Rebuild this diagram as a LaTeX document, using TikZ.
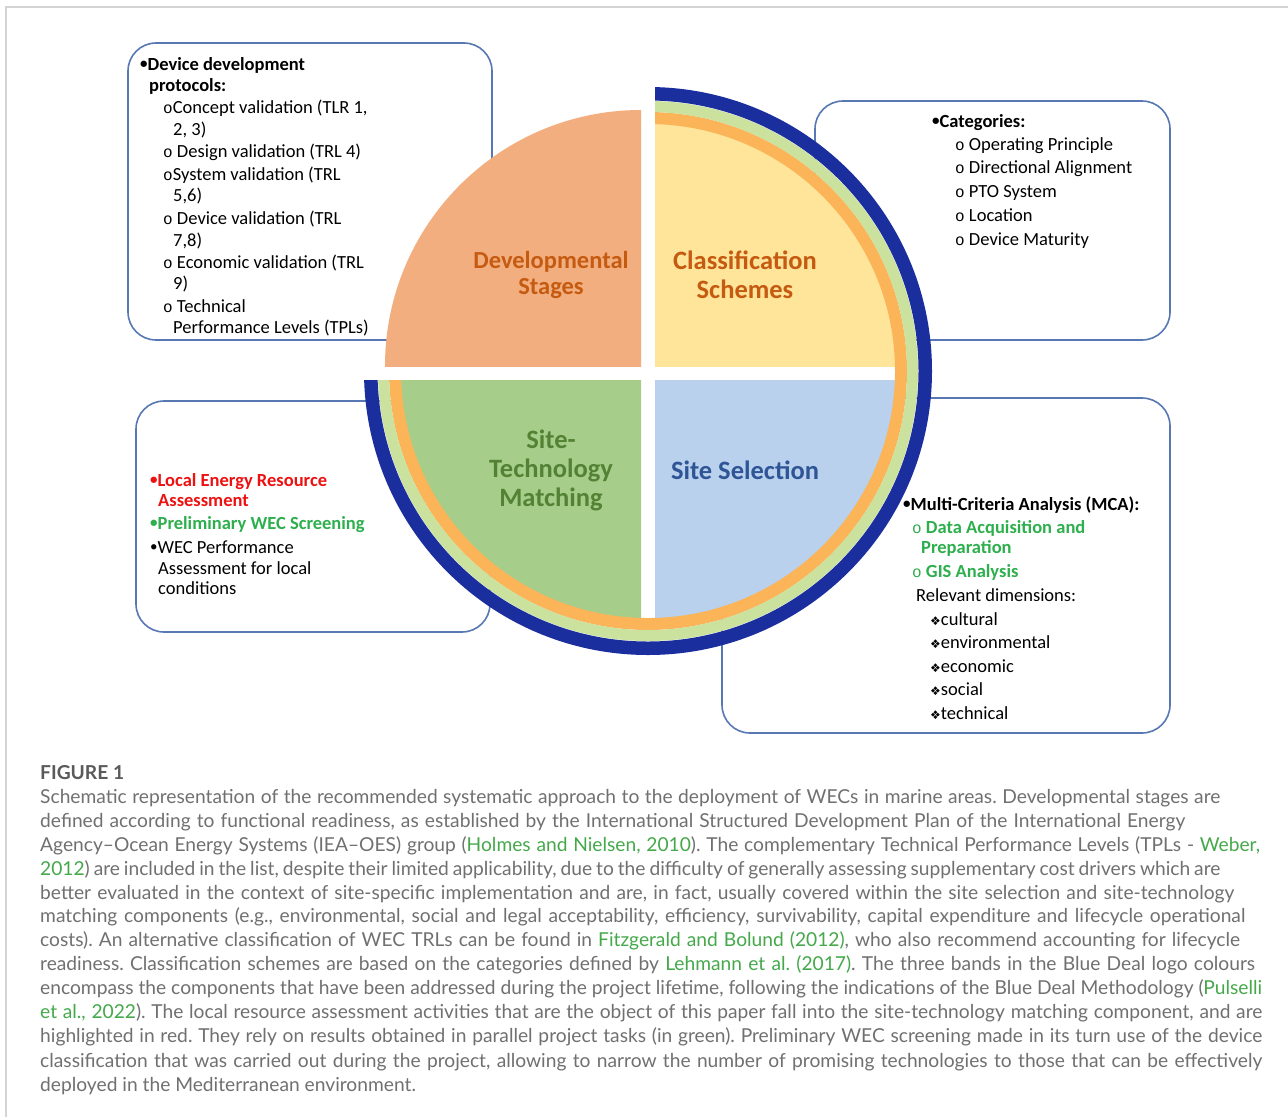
\documentclass[tikz,border=0pt]{standalone}
\usepackage{fontspec}
\setmainfont{Carlito}
\newfontfamily\capfont{Lato}
\newfontfamily\monof{Liberation Mono}
\newfontfamily\djv{DejaVu Sans}
\frenchspacing

\definecolor{qorange}{HTML}{F2AE7E}
\definecolor{qyellow}{HTML}{FEE59A}
\definecolor{qgreen}{HTML}{A6CE8A}
\definecolor{qblue}{HTML}{B9D1EC}
\definecolor{rorange}{HTML}{FBB458}
\definecolor{rgreen}{HTML}{CBE19E}
\definecolor{rblue}{HTML}{1A2E9E}
\definecolor{boxc}{HTML}{5878B4}
\definecolor{lorange}{HTML}{C55A11}
\definecolor{lgreen}{HTML}{548235}
\definecolor{lblue}{HTML}{2F5597}
\definecolor{tred}{HTML}{EE1111}
\definecolor{tgreen}{HTML}{2EAF4D}
\definecolor{capgray}{HTML}{707070}
\definecolor{capdark}{HTML}{5A5A5A}
\definecolor{linkg}{HTML}{45A94B}
\definecolor{framec}{HTML}{D4D4D4}

\newcommand\bul{\raisebox{1.2pt}{\fontsize{15}{15}\selectfont •}}
\newcommand\ob{{\monof\fontsize{16}{16}\selectfont o}}
\newcommand\dia{{\djv\fontsize{12}{12}\selectfont ❖}}
\newcommand\lk[1]{\textcolor{linkg}{#1}}
\newcommand\txtline[4]{\node[ln] (#1) at (#2,#3) {#4};}
\newcommand\capline[4]{\node[capt] (#1) at (40,#2) {\makebox[#3pt][s]{#4}};}

\begin{document}
\begin{tikzpicture}[x=1pt,y=-1pt,
  ln/.style={anchor=west, inner sep=0pt, text height=14pt, text depth=4pt, font=\fontsize{18.5}{21.9}\selectfont, text=black},
  capt/.style={anchor=west, inner sep=0pt, text height=14pt, text depth=5pt, font=\capfont\fontsize{19.2}{24}\selectfont, text=capgray},
  boxs/.style={draw=boxc, line width=1.6pt, rounded corners=28pt, fill=white},
  qlab/.style={font=\bfseries\fontsize{26.5}{29}\selectfont, align=center, inner sep=0pt},
  qlabs/.style={font=\bfseries\fontsize{24.5}{26.5}\selectfont, align=center, inner sep=0pt}]
\useasboundingbox (0,0) rectangle (1288,1117);
\fill[white] (0,0) rectangle (1288,1117);
\draw[framec, line width=1.5pt] (6,1117) -- (6,7) -- (1288,7);

% boxes
\draw[boxs] (128,43) rectangle (492,340);
\draw[boxs] (815,101) rectangle (1170,340);
\draw[boxs] (136,401) rectangle (490,632);
\draw[boxs] (722,398) rectangle (1170,733);

% quadrants
\begin{scope}
  \clip (380,100) rectangle (641,366);
  \fill[qorange] (641,366) circle (256);
\end{scope}
\begin{scope}
  \clip (655,100) rectangle (920,366);
  \fill[qyellow] (655,366) circle (244);
\end{scope}
\begin{scope}
  \clip (380,380) rectangle (641,640);
  \fill[qgreen] (641,380) circle (244);
\end{scope}
\begin{scope}
  \clip (655,380) rectangle (920,640);
  \fill[qblue] (655,380) circle (244);
\end{scope}

% rings
\begin{scope}
  \clip (655,0) -- (1288,0) -- (1288,1117) -- (0,1117) -- (0,380) -- (655,380) -- cycle;
  \draw[rorange, line width=12pt] (648,371) circle (253);
  \draw[rgreen, line width=11pt] (648,371) circle (264.5);
  \draw[rblue, line width=13.5pt] (648,371) circle (277.25);
\end{scope}

% quadrant labels
\node[qlabs, text=lorange] (qs1) at (551,275) {Developmental\\Stages};
\node[qlab, text=lorange] (qs2) at (745,275) {Classification\\Schemes};
\node[qlab, text=lgreen] (qs3) at (551,470) {Site-\\Technology\\Matching};
\node[qlab, text=lblue] (qs4) at (745,470) {Site Selection};

% box 1
\txtline{a1}{140}{65}{\textbf{\bul Device development}}
\txtline{a2}{149}{86}{\textbf{protocols:}}
\txtline{a3}{163}{108}{\ob Concept validation (TLR 1,}
\txtline{a4}{173}{130}{2, 3)}
\txtline{a5}{163}{152}{\ob\ Design validation (TRL 4)}
\txtline{a6}{163}{175}{\ob System validation (TRL}
\txtline{a7}{173}{196}{5,6)}
\txtline{a8}{163}{219}{\ob\ Device validation (TRL}
\txtline{a9}{173}{241}{7,8)}
\txtline{a10}{163}{263}{\ob\ Economic validation (TRL}
\txtline{a11}{173}{284}{9)}
\txtline{a12}{163}{307}{\ob\ Technical}
\txtline{a13}{173}{328}{Performance Levels (TPLs)}

% box 2
\txtline{b1}{932}{122}{\textbf{\bul Categories:}}
\txtline{b2}{955}{145}{\ob\ Operating Principle}
\txtline{b3}{955}{168}{\ob\ Directional Alignment}
\txtline{b4}{955}{192}{\ob\ PTO System}
\txtline{b5}{955}{216}{\ob\ Location}
\txtline{b6}{955}{240}{\ob\ Device Maturity}

% box 3
\txtline{c1}{150}{481}{\textcolor{tred}{\textbf{\bul Local Energy Resource}}}
\txtline{c2}{158}{501}{\textcolor{tred}{\textbf{Assessment}}}
\txtline{c3}{150}{524}{\textcolor{tgreen}{\textbf{\bul Preliminary WEC Screening}}}
\txtline{c4}{150}{548}{\bul WEC Performance}
\txtline{c5}{158}{569}{Assessment for local}
\txtline{c6}{158}{589}{conditions}

% box 4
\txtline{d1}{903}{505}{\textbf{\bul Multi-Criteria Analysis (MCA):}}
\txtline{d2}{912}{528}{\textcolor{tgreen}{\ob\ \textbf{Data Acquisition and}}}
\txtline{d3}{921}{548}{\textcolor{tgreen}{\textbf{Preparation}}}
\txtline{d4}{912}{572}{\textcolor{tgreen}{\ob\ \textbf{GIS Analysis}}}
\txtline{d5}{916}{596}{Relevant dimensions:}
\txtline{d6}{930}{620}{\dia cultural}
\txtline{d7}{930}{643}{\dia environmental}
\txtline{d8}{930}{667}{\dia economic}
\txtline{d9}{930}{690}{\dia social}
\txtline{d10}{930}{714}{\dia technical}

% caption
\node[capt, text=capdark] (fig) at (40,775) {\bfseries FIGURE 1};
\capline{k1}{799}{1180}{Schematic representation of the recommended systematic approach to the deployment of WECs in marine areas. Developmental stages are}
\capline{k2}{823}{1145}{defined according to functional readiness, as established by the International Structured Development Plan of the International Energy}
\capline{k3}{847}{1220}{Agency–Ocean Energy Systems (IEA–OES) group (\lk{Holmes and Nielsen, 2010}). The complementary Technical Performance Levels (TPLs - \lk{Weber,}}
\capline{k4}{871}{1180}{\lk{2012}) are included in the list, despite their limited applicability, due to the difficulty of generally assessing supplementary cost drivers which are}
\capline{k5}{895}{1194}{better evaluated in the context of site-specific implementation and are, in fact, usually covered within the site selection and site-technology}
\capline{k6}{918}{1205}{matching components (e.g., environmental, social and legal acceptability, efficiency, survivability, capital expenditure and lifecycle operational}
\capline{k7}{942}{1200}{costs). An alternative classification of WEC TRLs can be found in \lk{Fitzgerald and Bolund (2012)}, who also recommend accounting for lifecycle}
\capline{k8}{966}{1215}{readiness. Classification schemes are based on the categories defined by \lk{Lehmann et al. (2017)}. The three bands in the Blue Deal logo colours}
\capline{k9}{990}{1222}{encompass the components that have been addressed during the project lifetime, following the indications of the Blue Deal Methodology (\lk{Pulselli}}
\capline{k10}{1014}{1222}{\lk{et al., 2022}). The local resource assessment activities that are the object of this paper fall into the site-technology matching component, and are}
\capline{k11}{1038}{1222}{highlighted in red. They rely on results obtained in parallel project tasks (in green). Preliminary WEC screening made in its turn use of the device}
\capline{k12}{1063}{1222}{classification that was carried out during the project, allowing to narrow the number of promising technologies to those that can be effectively}
\node[capt] (k13) at (40,1087) {deployed in the Mediterranean environment.};
\end{tikzpicture}
\end{document}
